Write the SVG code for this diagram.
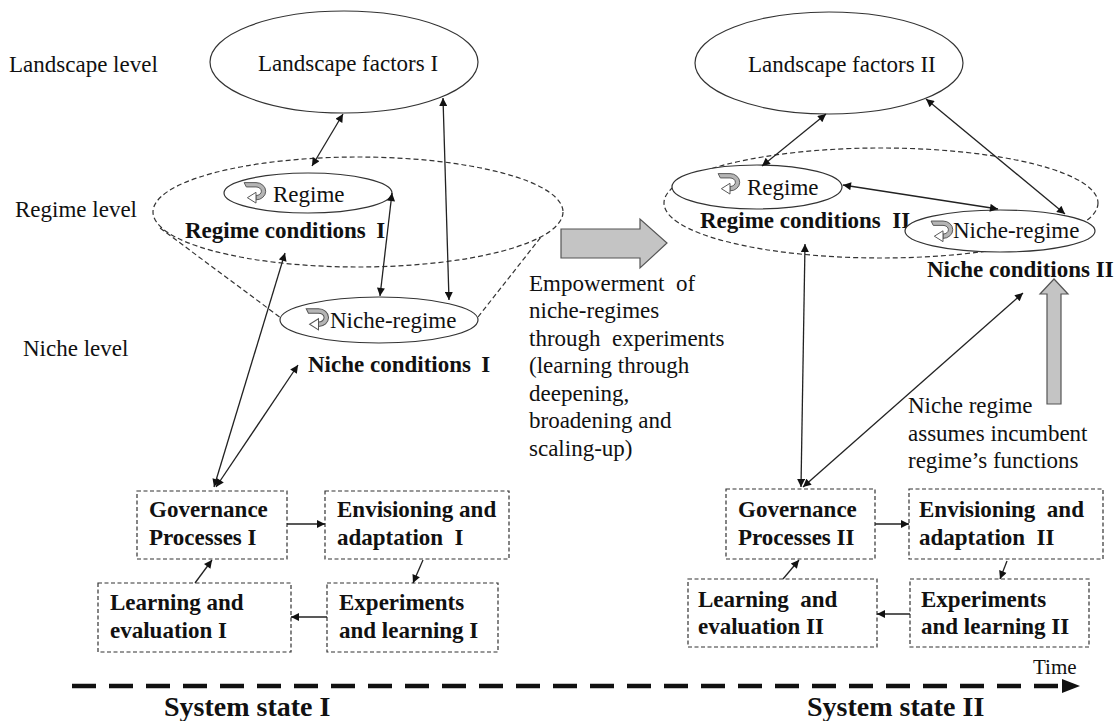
<svg xmlns="http://www.w3.org/2000/svg" width="1120" height="721" viewBox="0 0 1120 721">
<style>
.t{font-family:"Liberation Serif","Times New Roman",serif;font-size:23px;fill:#111}
.b{font-weight:bold}
.ell{fill:#fff;stroke:#333;stroke-width:1.2}
.dash{fill:none;stroke:#333;stroke-width:1.2;stroke-dasharray:5 3}
.box{fill:#fff;stroke:#333;stroke-width:1.2;stroke-dasharray:4 2.5}
.con{stroke:#222;stroke-width:1.3;fill:none;marker-end:url(#ah)}
.dbl{marker-start:url(#ah)}
.block{fill:#c4c4c4;stroke:#555;stroke-width:1.2}
</style>
<defs>
<marker id="ah" viewBox="0 0 10 10" refX="10" refY="5" markerWidth="10" markerHeight="8" markerUnits="userSpaceOnUse" orient="auto-start-reverse">
<path d="M0,0 L10,5 L0,10 Z" fill="#111"/>
</marker>
<symbol id="curl" viewBox="0 0 24 26">
<path d="M1,1.5 H12 A9,8 0 0 1 12,17.5 V13.5 A5,4 0 0 0 12,5.5 H3 Z" fill="#b5b5b5" stroke="#555" stroke-width="0.9"/>
<path d="M12,10.5 L12,20.5 L4,15.5 Z" fill="#fff" stroke="#555" stroke-width="0.9"/>
</symbol>
</defs>
<rect width="1120" height="721" fill="#fff"/>

<g id="level-labels">
<text class="t" x="9" y="72">Landscape level</text>
<text class="t" x="15" y="217">Regime level</text>
<text class="t" x="23" y="356">Niche level</text>
</g>

<g id="regime-area-I">
<ellipse class="dash" cx="358" cy="212" rx="205" ry="55"/>
<line class="dash" x1="160" y1="228" x2="281" y2="318"/>
<line class="dash" x1="478" y1="317" x2="541" y2="237"/>
</g>
<g id="regime-area-II">
<ellipse class="dash" cx="881" cy="203" rx="217" ry="55"/>
</g>

<g id="landscape-I">
<ellipse class="ell" cx="344" cy="62" rx="134" ry="51"/>
<text class="t" x="258" y="71">Landscape factors I</text>
</g>
<g id="regime-I">
<ellipse class="ell" cx="308" cy="193" rx="84" ry="20"/>
<use href="#curl" x="242" y="181" width="28" height="28"/>
<text class="t" x="273" y="202">Regime</text>
</g>
<g id="regime-conditions-I">
<text class="t b" x="185" y="238">Regime conditions&#8201; I</text>
</g>
<g id="niche-regime-I">
<ellipse class="ell" cx="379" cy="320" rx="99" ry="23"/>
<use href="#curl" x="305" y="307" width="27" height="29"/>
<text class="t" x="330" y="328">Niche-regime</text>
</g>
<g id="niche-conditions-I">
<text class="t b" x="308" y="372">Niche conditions&#8201; I</text>
</g>

<g id="landscape-II">
<ellipse class="ell" cx="829" cy="63" rx="134" ry="51"/>
<text class="t" x="748" y="72">Landscape factors II</text>
</g>
<g id="regime-II">
<ellipse class="ell" cx="757" cy="187" rx="85" ry="22"/>
<use href="#curl" x="716" y="172" width="28" height="28"/>
<text class="t" x="747" y="195">Regime</text>
</g>
<g id="regime-conditions-II">
<text class="t b" x="700" y="228">Regime conditions&#160; II</text>
</g>
<g id="niche-regime-II">
<ellipse class="ell" cx="1000" cy="231" rx="95" ry="21"/>
<use href="#curl" x="930" y="219" width="26" height="29"/>
<text class="t" x="953" y="238">Niche-regime</text>
</g>
<g id="niche-conditions-II">
<text class="t b" x="927" y="277">Niche conditions II</text>
</g>

<g id="empowerment">
<path class="block" d="M561,229 H640 V219 L667,243 L640,268 V258 H561 Z"/>
<text class="t" x="529" y="291">Empowerment&#160; of</text>
<text class="t" x="529" y="318">niche-regimes</text>
<text class="t" x="529" y="346">through&#160; experiments</text>
<text class="t" x="529" y="373">(learning through</text>
<text class="t" x="529" y="401">deepening,</text>
<text class="t" x="529" y="428">broadening and</text>
<text class="t" x="529" y="456">scaling-up)</text>
</g>

<g id="assumes">
<path class="block" d="M1047,404 V294 H1040 L1054,279 L1068,294 H1061 V404 Z"/>
<text class="t" x="908" y="413">Niche regime</text>
<text class="t" x="908" y="441">assumes incumbent</text>
<text class="t" x="908" y="468">regime’s functions</text>
</g>

<g id="governance-I">
<rect class="box" x="137" y="491" width="150" height="68"/>
<text class="t b" x="149" y="517">Governance</text>
<text class="t b" x="149" y="545">Processes I</text>
</g>
<g id="envisioning-I">
<rect class="box" x="325" y="491" width="184" height="68"/>
<text class="t b" x="337" y="517">Envisioning and</text>
<text class="t b" x="337" y="545">adaptation&#160; I</text>
</g>
<g id="learning-I">
<rect class="box" x="98" y="583" width="193" height="69"/>
<text class="t b" x="110" y="610">Learning and</text>
<text class="t b" x="110" y="638">evaluation I</text>
</g>
<g id="experiments-I">
<rect class="box" x="327" y="583" width="171" height="69"/>
<text class="t b" x="339" y="610">Experiments</text>
<text class="t b" x="339" y="638">and learning I</text>
</g>

<g id="governance-II">
<rect class="box" x="726" y="489" width="149" height="70"/>
<text class="t b" x="738" y="517">Governance</text>
<text class="t b" x="738" y="545">Processes II</text>
</g>
<g id="envisioning-II">
<rect class="box" x="909" y="489" width="194" height="70"/>
<text class="t b" x="919" y="517">Envisioning&#160; and</text>
<text class="t b" x="919" y="545">adaptation&#160; II</text>
</g>
<g id="learning-II">
<rect class="box" x="688" y="579" width="189" height="68"/>
<text class="t b" x="698" y="607">Learning&#160; and</text>
<text class="t b" x="698" y="634">evaluation II</text>
</g>
<g id="experiments-II">
<rect class="box" x="910" y="579" width="179" height="68"/>
<text class="t b" x="921" y="607">Experiments</text>
<text class="t b" x="921" y="634">and learning II</text>
</g>

<g id="connectors">
<line class="con dbl" x1="343" y1="114" x2="312" y2="166"/>
<line class="con dbl" x1="449" y1="300" x2="443" y2="98"/>
<line class="con dbl" x1="392" y1="193" x2="380" y2="296"/>
<line class="con dbl" x1="285" y1="253" x2="214" y2="487"/>
<line class="con dbl" x1="298" y1="365" x2="216" y2="487"/>
<line class="con dbl" x1="826" y1="114" x2="762" y2="166"/>
<line class="con dbl" x1="926" y1="99" x2="1065" y2="214"/>
<line class="con dbl" x1="843" y1="185" x2="998" y2="209"/>
<line class="con dbl" x1="805" y1="244" x2="801" y2="487"/>
<line class="con dbl" x1="1023" y1="293" x2="803" y2="487"/>
<line class="con" x1="287" y1="524" x2="325" y2="524"/>
<line class="con" x1="423" y1="560" x2="413" y2="583"/>
<line class="con" x1="327" y1="617" x2="291" y2="617"/>
<line class="con" x1="195" y1="583" x2="212" y2="560"/>
<line class="con" x1="875" y1="524" x2="909" y2="524"/>
<line class="con" x1="1007" y1="561" x2="1000" y2="579"/>
<line class="con" x1="910" y1="614" x2="877" y2="614"/>
<line class="con" x1="783" y1="579" x2="799" y2="560"/>
</g>

<g id="timeline">
<line x1="72" y1="686" x2="1064" y2="686" stroke="#111" stroke-width="4.5" stroke-dasharray="24 13"/>
<path d="M1062,679 L1080,686 L1062,693 Z" fill="#111"/>
<text class="t" x="1033" y="674" style="font-size:21px">Time</text>
<text class="t b" x="164" y="716" style="font-size:28px">System state I</text>
<text class="t b" x="807" y="716" style="font-size:28px">System state II</text>
</g>
</svg>
